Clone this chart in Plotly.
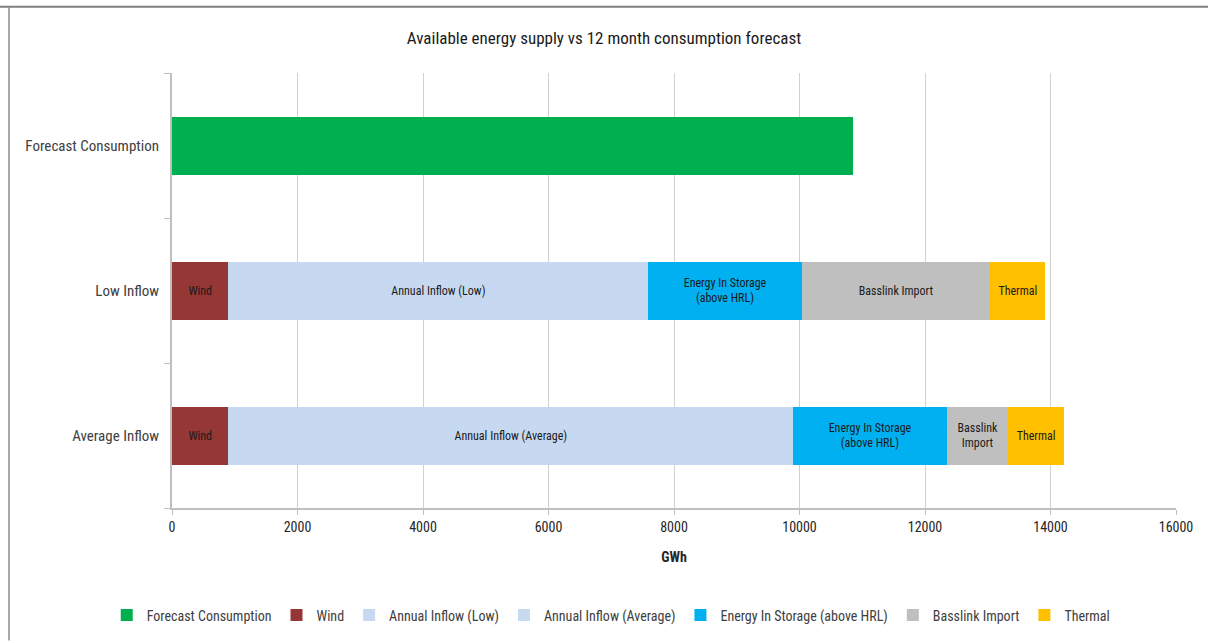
import plotly.graph_objects as go

# Categories (top to bottom as displayed)
categories = ["Forecast Consumption", "Low Inflow", "Average Inflow"]

# Energy values in GWh
forecast_consumption = [10850]
wind = [900, 900]                     # Low Inflow, Average Inflow
annual_inflow_low = [6690]            # Low Inflow
annual_inflow_avg = [9000]            # Average Inflow
energy_in_storage = [2450, 2450]      # Low Inflow, Average Inflow
basslink_import = [3000, 980]         # Low Inflow, Average Inflow
thermal = [880, 880]                  # Low Inflow, Average Inflow

x_ticks = [0, 2000, 4000, 6000, 8000, 10000, 12000, 14000, 16000]
x_tick_labels = [str(v) for v in x_ticks]

FONT = "Liberation Sans Narrow, Roboto Condensed, Arial Narrow, Open Sans, sans-serif"
LABEL_FONT = dict(family=FONT, size=12, color="#1a1a1a")

supply = ["Low Inflow", "Average Inflow"]

fig = go.Figure()
fig.add_trace(go.Bar(name="Forecast Consumption", y=["Forecast Consumption"], x=forecast_consumption,
                     orientation="h", marker_color="#00B050"))
fig.add_trace(go.Bar(name="Wind", y=supply, x=wind, orientation="h", marker_color="#953735",
                     text=["Wind", "Wind"]))
fig.add_trace(go.Bar(name="Annual Inflow (Low)", y=["Low Inflow"], x=annual_inflow_low, orientation="h",
                     marker_color="#C6D9F1", text=["Annual Inflow (Low)"]))
fig.add_trace(go.Bar(name="Annual Inflow (Average)", y=["Average Inflow"], x=annual_inflow_avg,
                     orientation="h", marker_color="#C6D9F1", text=["Annual Inflow (Average)"]))
fig.add_trace(go.Bar(name="Energy In Storage (above HRL)", y=supply, x=energy_in_storage, orientation="h",
                     marker_color="#00B0F0",
                     text=["Energy In Storage<br>(above HRL)", "Energy In Storage<br>(above HRL)"]))
fig.add_trace(go.Bar(name="Basslink Import", y=supply, x=basslink_import, orientation="h",
                     marker_color="#BFBFBF", text=["Basslink Import", "Basslink<br>Import"]))
fig.add_trace(go.Bar(name="Thermal", y=supply, x=thermal, orientation="h", marker_color="#FFC000",
                     text=["Thermal", "Thermal"]))

fig.update_traces(textposition="inside", insidetextanchor="middle", textangle=0,
                  insidetextfont=LABEL_FONT, marker_line_width=0)

# Plot-area geometry used for the frame lines outside the axes
L, R, T, B = 172, 32, 73, 133
W, H = 1208, 643
pw, ph = W - L - R, H - T - B

def px_x(p):
    return (p - L) / pw

def px_y(p):
    return (H - B - p) / ph

fig.update_layout(
    width=W, height=H,
    margin=dict(l=L, r=R, t=T, b=B),
    barmode="stack", bargap=0.6,
    paper_bgcolor="white", plot_bgcolor="white",
    font=dict(family=FONT, size=14, color="#404040"),
    title=dict(text="Available energy supply vs 12 month consumption forecast",
               x=0.5, xanchor="center", y=1 - 38 / H, yanchor="middle",
               font=dict(family=FONT, size=17, color="#1a1a1a")),
    xaxis=dict(range=[0, 16000], tickvals=x_ticks, ticktext=x_tick_labels,
               showgrid=True, gridcolor="#D0D0D0", gridwidth=1,
               zeroline=False, showline=True, linecolor="#BFBFBF", linewidth=2,
               ticks="outside", ticklen=5, tickcolor="#BFBFBF",
               tickfont=dict(family=FONT, size=14, color="#262626"),
               title=dict(text="<b>GWh</b>", font=dict(family=FONT, size=14, color="#262626"),
                          standoff=18)),
    yaxis=dict(categoryorder="array", categoryarray=categories[::-1],
               showline=True, linecolor="#BFBFBF", linewidth=2, showgrid=False,
               ticks="outside", ticklen=6, tickcolor="#BFBFBF", tickson="boundaries",
               tickfont=dict(family=FONT, size=15, color="#404040"), ticklabelstandoff=8),
    legend=dict(orientation="h", x=0.437, xanchor="center", y=px_y(618), yanchor="middle",
                traceorder="normal", font=dict(family=FONT, size=14, color="#404040"),
                itemwidth=30),
    shapes=[
        dict(type="line", xref="paper", yref="paper", x0=px_x(0), x1=px_x(W), y0=px_y(6.5), y1=px_y(6.5),
             line=dict(color="#7F7F7F", width=2)),
        dict(type="line", xref="paper", yref="paper", x0=px_x(9), x1=px_x(9), y0=px_y(6.5), y1=px_y(H),
             line=dict(color="#8C8C8C", width=1.5)),
    ],
    showlegend=True,
)

fig.write_html("out.html")
